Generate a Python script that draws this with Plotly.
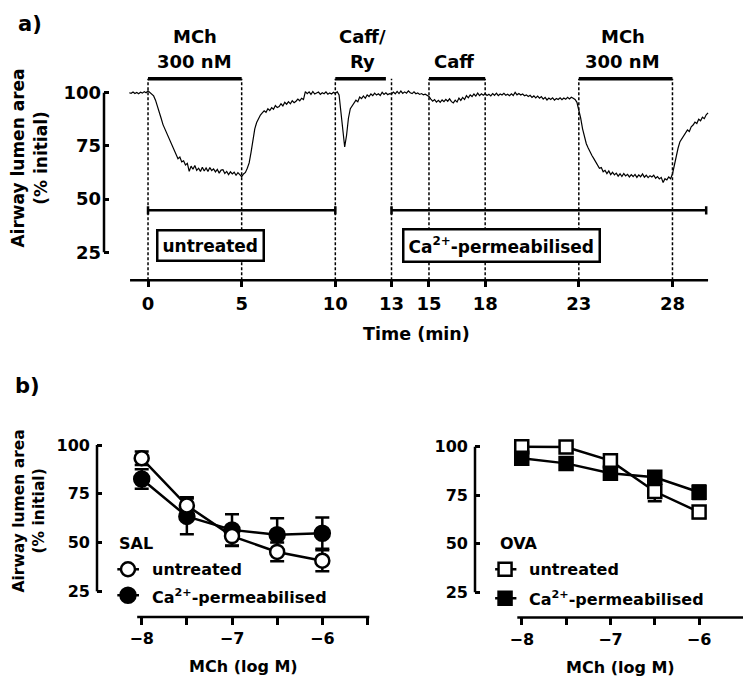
import numpy as np
import plotly.graph_objects as go

# ---------------- data ----------------
# panel a: time course (min), sampled every 0.1 min, and airway lumen area (% initial)
trace_time = np.round(np.arange(-1.0, 29.95, 0.1), 1)
trace_area = [
    100.0, 99.7, 100.3, 99.6, 100.1, 99.5, 100.2, 99.8, 100.5, 100.0,
    100.9, 100.2, 99.6, 98.5, 96.5, 94.0, 91.0, 88.0, 85.0, 83.0,
    81.0, 78.5, 77.0, 74.5, 72.5, 71.0, 69.0, 69.8, 67.5, 68.0,
    66.0, 66.8, 63.0, 65.5, 64.0, 65.8, 63.5, 64.5, 63.0, 65.0,
    63.2, 64.6, 63.0, 64.8, 63.4, 64.2, 62.8, 64.0, 62.2, 63.6,
    63.8, 62.0, 63.0, 61.5, 62.8, 61.8, 62.6, 61.2, 62.4, 61.5,
    60.5, 61.8, 62.5, 64.5, 67.0, 72.0, 78.0, 83.0, 86.0, 88.0,
    89.5, 90.5, 91.5, 90.8, 92.5, 91.6, 93.0, 92.2, 94.0, 93.0,
    93.5, 94.8, 93.8, 95.5, 94.6, 95.8, 94.8, 96.2, 95.3, 96.0,
    97.0, 96.2, 97.4, 96.8, 100.5, 99.6, 100.4, 99.2, 100.6, 99.4,
    99.8, 100.3, 99.2, 100.0, 99.5, 100.4, 99.3, 99.9, 99.4, 100.2,
    99.6, 100.5, 99.0, 90.0, 80.0, 74.5, 80.0, 88.0, 92.5, 94.0,
    95.5, 96.5, 95.8, 98.0, 97.2, 98.5, 97.4, 99.0, 98.2, 99.4,
    98.6, 99.8, 98.9, 99.5, 98.7, 100.2, 99.2, 100.0, 99.1, 99.6,
    99.4, 100.3, 99.5, 100.6, 99.6, 100.8, 99.7, 100.4, 99.8, 100.9,
    100.0, 99.6, 100.4, 99.5, 99.9, 99.2, 99.6, 99.0, 99.3, 98.8,
    98.2, 97.0, 96.0, 96.8, 95.6, 96.4, 95.5, 96.6, 95.8, 96.9,
    96.0, 97.1, 95.8, 95.2, 96.5, 95.6, 97.5, 96.4, 97.8, 96.8,
    98.6, 97.6, 99.0, 98.2, 99.4, 98.4, 99.8, 98.6, 99.5, 98.8,
    99.6, 98.7, 99.3, 98.5, 99.6, 98.8, 99.8, 98.6, 99.4, 98.9,
    99.7, 98.8, 99.3, 98.6, 99.5, 98.7, 100.2, 99.0, 99.6, 98.9,
    99.4, 98.6, 99.0, 98.2, 98.8, 97.8, 98.5, 97.6, 98.4, 97.4,
    98.2, 97.0, 97.8, 96.6, 97.5, 96.8, 97.6, 96.5, 97.3, 96.8,
    97.6, 96.7, 97.5, 96.9, 97.8, 97.1, 97.9, 97.4, 96.8, 95.5,
    92.0, 88.0, 83.0, 79.0, 76.0, 74.0, 72.0, 70.5, 69.0, 67.5,
    66.0, 64.5, 64.8, 62.8, 63.5, 62.0, 63.2, 61.5, 62.6, 61.4,
    62.2, 60.8, 61.9, 60.6, 62.0, 60.9, 61.6, 60.4, 61.5, 60.6,
    61.6, 60.2, 61.4, 60.5, 61.8, 60.3, 61.2, 60.1, 61.0, 60.4,
    61.2, 59.8, 60.6, 59.5, 60.2, 57.8, 59.6, 59.0, 60.4, 59.6,
    61.8, 66.0, 70.5, 74.0, 77.0, 78.5, 80.0, 81.0, 82.5, 81.8,
    84.0, 84.8, 86.2, 85.5, 87.5, 86.8, 88.5, 87.8, 89.6, 90.5,
]
tick_times = [0, 5, 10, 13, 15, 18, 23, 28]
drug_start = [0, 10, 15, 23]
drug_end = [5, 12.7, 18, 28]
drug_line1 = ["MCh", "Caff/", "", "MCh"]
drug_line2 = ["300 nM", "Ry", "Caff", "300 nM"]
drug_label_x = [2.5, 11.45, 16.35, 25.35]
cond_start = [0, 13]
cond_end = [10, 29.8]
cond_labels = ["untreated", "Ca<sup>2+</sup>-permeabilised"]
cond_label_x = [3.36, 18.85]

# panel b: concentration-response
dose = [-8, -7.5, -7, -6.5, -6]
dose_ticks = [-8, -7, -6]
dose_minor_ticks = [-8, -7.5, -7, -6.5, -6, -5.5]
sal_untreated = [93.2, 69.0, 53.3, 45.2, 40.7]
sal_untreated_err = [3.5, 4.2, 5.0, 4.8, 5.4]
sal_perm = [82.6, 63.4, 56.5, 54.0, 54.8]
sal_perm_err = [5.0, 9.2, 8.0, 8.5, 8.0]
ova_untreated = [100.0, 99.8, 92.8, 76.9, 66.3]
ova_untreated_err = [2.0, 2.0, 3.0, 5.0, 3.0]
ova_perm = [94.0, 91.4, 86.3, 84.2, 76.5]
ova_perm_err = [2.0, 2.0, 3.0, 3.0, 3.5]

# ---------------- figure ----------------
# the page body adds an 8 px margin, so the figure is laid out 8 px in from the window edge
OFF = 8
W, H = 751 - 2 * OFF, 686 - 2 * OFF
FONT = "DejaVu Sans"
BLK = "black"


def px_x(p):
    return (p - OFF) / W


def px_y(p):
    return 1 - (p - OFF) / H


fig = go.Figure()

# panel a trace
fig.add_trace(go.Scatter(x=trace_time, y=trace_area, mode="lines",
                         line=dict(color=BLK, width=1.2), xaxis="x", yaxis="y",
                         showlegend=False, hoverinfo="skip"))


def add_series(x, y, err, symbol, fill, xa, ya, size):
    fig.add_trace(go.Scatter(
        x=x, y=y, mode="lines+markers", xaxis=xa, yaxis=ya, showlegend=False,
        line=dict(color=BLK, width=2.5),
        marker=dict(symbol=symbol, size=size, color=fill, line=dict(color=BLK, width=2.5)),
        error_y=dict(type="data", array=err, visible=True, color=BLK, thickness=2.5, width=7),
        cliponaxis=False))


add_series(dose, sal_perm, sal_perm_err, "circle", BLK, "x2", "y2", 15)
add_series(dose, sal_untreated, sal_untreated_err, "circle", "white", "x2", "y2", 14)
add_series(dose, ova_untreated, ova_untreated_err, "square", "white", "x3", "y3", 13)
add_series(dose, ova_perm, ova_perm_err, "square", BLK, "x3", "y3", 13)


# legend symbols (drawn through the axes)
def legend_symbol(xa, ya, xs, y, symbol, fill, size):
    fig.add_trace(go.Scatter(x=xs, y=[y, y, y], mode="lines", xaxis=xa, yaxis=ya,
                             line=dict(color=BLK, width=2.5), showlegend=False,
                             hoverinfo="skip", cliponaxis=False))
    fig.add_trace(go.Scatter(x=[xs[1]], y=[y], mode="markers", xaxis=xa, yaxis=ya,
                             marker=dict(symbol=symbol, size=size, color=fill,
                                         line=dict(color=BLK, width=2.5)),
                             showlegend=False, hoverinfo="skip", cliponaxis=False))


legend_symbol("x2", "y2", [-8.27, -8.152, -8.03], 36.3, "circle", "white", 14)
legend_symbol("x2", "y2", [-8.27, -8.152, -8.03], 23.0, "circle", BLK, 15)
legend_symbol("x3", "y3", [-8.30, -8.188, -8.06], 36.8, "square", "white", 13)
legend_symbol("x3", "y3", [-8.30, -8.188, -8.06], 21.9, "square", BLK, 13)

axis_common = dict(showgrid=False, zeroline=False, showline=False, ticks="outside",
                   tickcolor=BLK, tickwidth=2.5, fixedrange=True)
minor_x = dict(ticks="outside", tickvals=dose_minor_ticks, ticklen=7, tickwidth=2.5,
               tickcolor=BLK, showgrid=False)

fig.update_layout(
    width=W, height=H, margin=dict(l=0, r=0, t=0, b=0),
    paper_bgcolor="white", plot_bgcolor="white",
    font=dict(family=FONT, color=BLK),
    xaxis=dict(axis_common, domain=[px_x(104), px_x(719.3)], range=[-2.35, 30.5],
               tickvals=tick_times, ticklen=6, anchor="y",
               tickfont=dict(family=FONT, size=18, weight="bold"), ticklabelstandoff=1),
    yaxis=dict(axis_common, domain=[px_y(279), px_y(73.9)], range=[11.86, 108],
               tickvals=[25, 50, 75, 100], ticks="inside", ticklen=5, anchor="x",
               tickfont=dict(family=FONT, size=18, weight="bold"), ticklabelstandoff=2),
    xaxis2=dict(axis_common, domain=[px_x(97), px_x(376.5)], range=[-8.495, -5.4],
                tickvals=dose_ticks, ticklen=7, anchor="y2", minor=minor_x,
                tickfont=dict(family=FONT, size=16, weight="bold"), ticklabelstandoff=0),
    yaxis2=dict(axis_common, domain=[px_y(616.7), px_y(436.5)], range=[11.9, 104],
                tickvals=[25, 50, 75, 100], ticks="inside", ticklen=5, anchor="x2",
                tickfont=dict(family=FONT, size=16, weight="bold"), ticklabelstandoff=6),
    xaxis3=dict(axis_common, domain=[px_x(475), px_x(743)], range=[-8.527, -5.505],
                tickvals=dose_ticks, ticklen=7, anchor="y3", minor=minor_x,
                tickfont=dict(family=FONT, size=16, weight="bold"), ticklabelstandoff=0),
    yaxis3=dict(axis_common, domain=[px_y(617.3), px_y(438.2)], range=[12.0, 104],
                tickvals=[25, 50, 75, 100], ticks="inside", ticklen=5, anchor="x3",
                tickfont=dict(family=FONT, size=16, weight="bold"), ticklabelstandoff=6),
)

shapes = []
# axis lines
shapes.append(dict(type="line", xref="x domain", yref="y", x0=0, x1=0, y0=25, y1=100,
                   line=dict(color=BLK, width=2.5)))
shapes.append(dict(type="line", xref="x", yref="y domain", x0=-0.96, x1=29.9, y0=0, y1=0,
                   line=dict(color=BLK, width=2.5)))
shapes.append(dict(type="line", xref="x2 domain", yref="y2", x0=0, x1=0, y0=25, y1=100,
                   line=dict(color=BLK, width=2.5)))
shapes.append(dict(type="line", xref="x2", yref="y2 domain", x0=-8.05, x1=-5.48, y0=0, y1=0,
                   line=dict(color=BLK, width=2.5)))
shapes.append(dict(type="line", xref="x3 domain", yref="y3", x0=0, x1=0, y0=25, y1=100,
                   line=dict(color=BLK, width=2.5)))
shapes.append(dict(type="line", xref="x3", yref="y3 domain", x0=-8.05, x1=-5.49, y0=0, y1=0,
                   line=dict(color=BLK, width=2.5)))
# dotted guide lines
for t in tick_times:
    shapes.append(dict(type="line", xref="x", yref="y", x0=t, x1=t, y0=11.86, y1=106.6,
                       line=dict(color=BLK, width=1.5, dash="3px,2px")))
# drug application bars
for s, e in zip(drug_start, drug_end):
    shapes.append(dict(type="line", xref="x", yref="y", x0=s, x1=e, y0=106.6, y1=106.6,
                       line=dict(color=BLK, width=3.5)))
# condition brackets
for s, e in zip(cond_start, cond_end):
    shapes.append(dict(type="line", xref="x", yref="y", x0=s, x1=e, y0=44.7, y1=44.7,
                       line=dict(color=BLK, width=2.5)))
    for xx in (s, e):
        shapes.append(dict(type="line", xref="x", yref="y", x0=xx, x1=xx, y0=42.8, y1=46.6,
                           line=dict(color=BLK, width=2.5)))
fig.update_layout(shapes=shapes)

ann = []


def text(x, y, s, size, xref="paper", yref="paper", xanchor="center", yanchor="middle",
         angle=0, **kw):
    ann.append(dict(x=x, y=y, xref=xref, yref=yref, text=s, showarrow=False,
                    xanchor=xanchor, yanchor=yanchor, textangle=angle,
                    font=dict(family=FONT, size=size, color=BLK, weight="bold"), **kw))


for x, l1, l2 in zip(drug_label_x, drug_line1, drug_line2):
    if l1:
        text(x, px_y(35), l1, 18, xref="x")
    text(x, px_y(60), l2, 18, xref="x")

for x, s in zip(cond_label_x, cond_labels):
    text(x, px_y(244.5), s, 17, xref="x", bordercolor=BLK, borderwidth=2.5, borderpad=4,
         bgcolor="white")

text(px_x(30), 1.0, "a)", 21, yanchor="top")
text(px_x(27), px_y(385), "b)", 21)
text(px_x(416), px_y(333), "Time (min)", 17.5)
text(px_x(29), px_y(157), "Airway lumen area<br>(% initial)", 17, angle=-90)
text(px_x(29), px_y(511), "Airway lumen area<br>(% initial)", 15.5, angle=-90)
text(px_x(243), px_y(666), "MCh (log M)", 16)
text(px_x(620), px_y(667), "MCh (log M)", 16)

text(px_x(117), px_y(543), "SAL", 16, xanchor="left")
text(px_x(150), px_y(569), "untreated", 16, xanchor="left")
text(px_x(150), px_y(596), "Ca<sup>2+</sup>-permeabilised", 16, xanchor="left")
text(px_x(498), px_y(543), "OVA", 16, xanchor="left")
text(px_x(527), px_y(569), "untreated", 16, xanchor="left")
text(px_x(527), px_y(598), "Ca<sup>2+</sup>-permeabilised", 16, xanchor="left")

fig.update_layout(annotations=ann)
fig.write_html("out.html")
